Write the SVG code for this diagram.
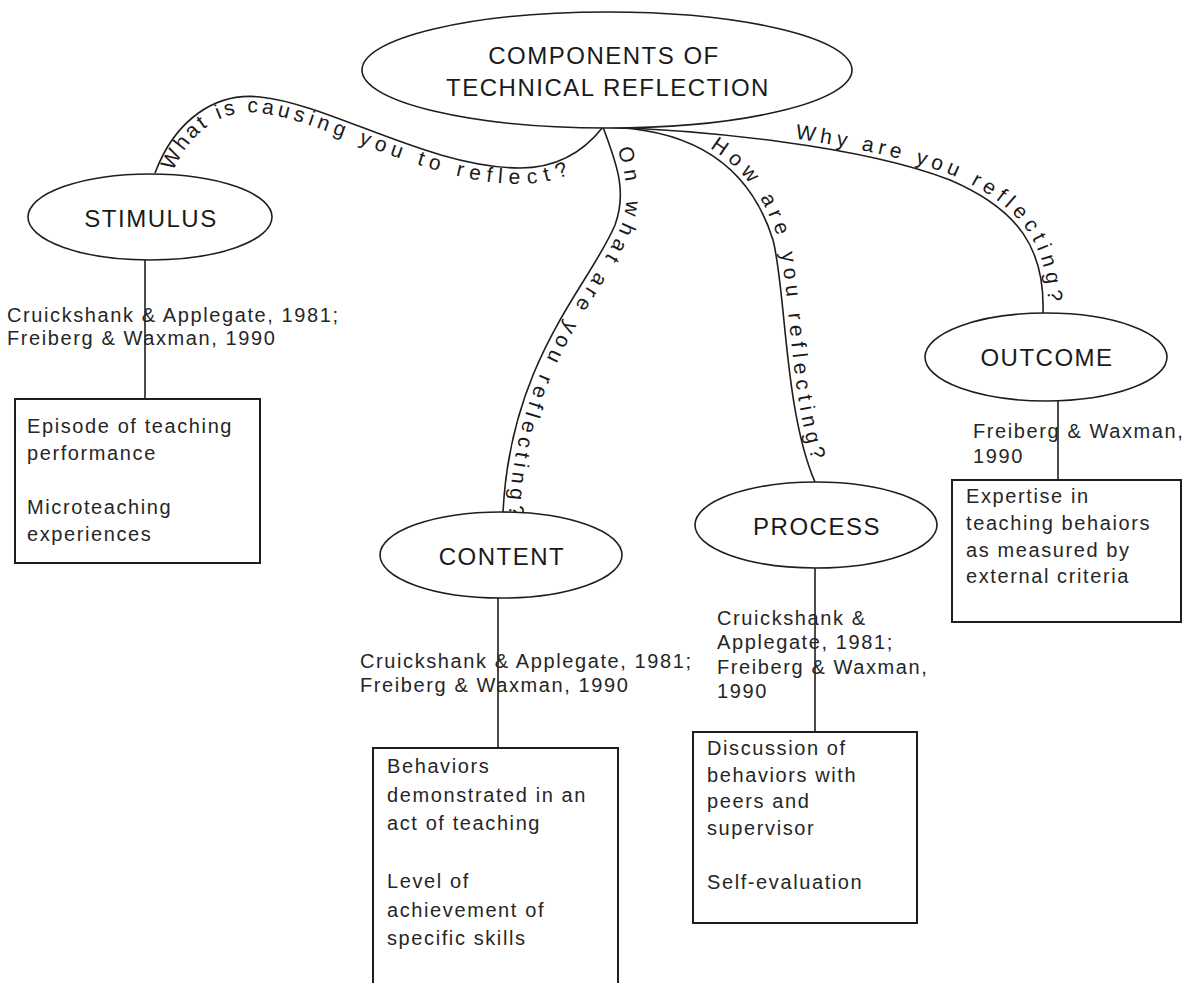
<svg xmlns="http://www.w3.org/2000/svg" width="1187" height="983" viewBox="0 0 1187 983">
  <style>
    .shape { fill: #ffffff; stroke: #1e1e1e; stroke-width: 1.6; }
    .box { fill: #ffffff; stroke: #1e1e1e; stroke-width: 2; }
    .wire { fill: none; stroke: #1e1e1e; stroke-width: 1.6; }
    .title { font-family: "Liberation Sans", Arial, sans-serif; font-size: 24px; letter-spacing: 1.5px; fill: #1a1a1a; text-anchor: middle; }
    .body { font-family: "Liberation Sans", Arial, sans-serif; font-size: 20px; letter-spacing: 1.6px; fill: #262626; }
    .curve { font-family: "Liberation Sans", Arial, sans-serif; font-size: 21px; letter-spacing: 4px; fill: #1a1a1a; }
  </style>
  <defs>
    <path id="p-stimulus" d="M155,173 C175,120 215,92 260,97 C330,104 430,168 520,168 C560,168 585,150 603,127"/>
    <path id="p-content" d="M603,127 C615,160 628,190 615,225 C590,285 510,360 503,513"/>
    <path id="p-process" d="M603,127 C685,128 748,160 773,240 C786,290 784,410 815,482"/>
    <path id="p-outcome" d="M603,127 C700,130 860,145 950,180 C1020,210 1045,250 1043,313"/>
  </defs>
  <rect width="1187" height="983" fill="#ffffff"/>

  <!-- connectors: curved question links from the hub, straight links to the boxes -->
  <g id="connectors">
    <use href="#p-stimulus" class="wire"/>
    <use href="#p-content" class="wire"/>
    <use href="#p-process" class="wire"/>
    <use href="#p-outcome" class="wire"/>
    <line class="wire" x1="145" y1="260" x2="145" y2="399"/>
    <line class="wire" x1="498" y1="598" x2="498" y2="748"/>
    <line class="wire" x1="815" y1="568" x2="815" y2="732"/>
    <line class="wire" x1="1058" y1="401" x2="1058" y2="480"/>
    <text class="curve" style="letter-spacing:5.3px"><textPath href="#p-stimulus" startOffset="10"><tspan dy="16">What is causing you to reflect?</tspan></textPath></text>
    <text class="curve" style="letter-spacing:5.2px"><textPath href="#p-content" startOffset="25"><tspan dy="-6">On what are you reflecting?</tspan></textPath></text>
    <text class="curve" style="letter-spacing:5.3px"><textPath href="#p-process" startOffset="108"><tspan dy="-5">How are you reflecting?</tspan></textPath></text>
    <text class="curve" style="letter-spacing:4.7px"><textPath href="#p-outcome" startOffset="192"><tspan dy="-5">Why are you reflecting?</tspan></textPath></text>
  </g>

  <g id="root">
    <ellipse class="shape" cx="607" cy="70" rx="245" ry="58"/>
    <text class="title" x="604" y="64">COMPONENTS OF</text>
    <text class="title" x="608" y="96">TECHNICAL REFLECTION</text>
  </g>

  <g id="stimulus">
    <ellipse class="shape" cx="150" cy="217" rx="122" ry="43"/>
    <text class="title" x="151" y="227">STIMULUS</text>
    <text class="body" x="7" y="322">Cruickshank &amp; Applegate, 1981;</text>
    <text class="body" x="7" y="345">Freiberg &amp; Waxman, 1990</text>
    <rect class="box" x="15" y="399" width="245" height="164"/>
    <text class="body" x="27" y="433">Episode of teaching</text>
    <text class="body" x="27" y="460">performance</text>
    <text class="body" x="27" y="514">Microteaching</text>
    <text class="body" x="27" y="541">experiences</text>
  </g>

  <g id="content">
    <ellipse class="shape" cx="501" cy="555" rx="121" ry="43"/>
    <text class="title" x="502" y="565">CONTENT</text>
    <text class="body" x="360" y="668">Cruickshank &amp; Applegate, 1981;</text>
    <text class="body" x="360" y="692">Freiberg &amp; Waxman, 1990</text>
    <rect class="box" x="373" y="748" width="245" height="250"/>
    <text class="body" x="387" y="773">Behaviors</text>
    <text class="body" x="387" y="802">demonstrated in an</text>
    <text class="body" x="387" y="830">act of teaching</text>
    <text class="body" x="387" y="888">Level of</text>
    <text class="body" x="387" y="917">achievement of</text>
    <text class="body" x="387" y="945">specific skills</text>
  </g>

  <g id="process">
    <ellipse class="shape" cx="816" cy="525" rx="121" ry="43"/>
    <text class="title" x="817" y="535">PROCESS</text>
    <text class="body" x="717" y="625">Cruickshank &amp;</text>
    <text class="body" x="717" y="649">Applegate, 1981;</text>
    <text class="body" x="717" y="674">Freiberg &amp; Waxman,</text>
    <text class="body" x="717" y="698">1990</text>
    <rect class="box" x="693" y="732" width="224" height="191"/>
    <text class="body" x="707" y="755">Discussion of</text>
    <text class="body" x="707" y="782">behaviors with</text>
    <text class="body" x="707" y="808">peers and</text>
    <text class="body" x="707" y="835">supervisor</text>
    <text class="body" x="707" y="889">Self-evaluation</text>
  </g>

  <g id="outcome">
    <ellipse class="shape" cx="1046" cy="357" rx="121" ry="44"/>
    <text class="title" x="1047" y="366">OUTCOME</text>
    <text class="body" x="973" y="438">Freiberg &amp; Waxman,</text>
    <text class="body" x="973" y="463">1990</text>
    <rect class="box" x="952" y="480" width="229" height="142"/>
    <text class="body" x="966" y="503">Expertise in</text>
    <text class="body" x="966" y="530">teaching behaiors</text>
    <text class="body" x="966" y="557">as measured by</text>
    <text class="body" x="966" y="583">external criteria</text>
  </g>
</svg>
